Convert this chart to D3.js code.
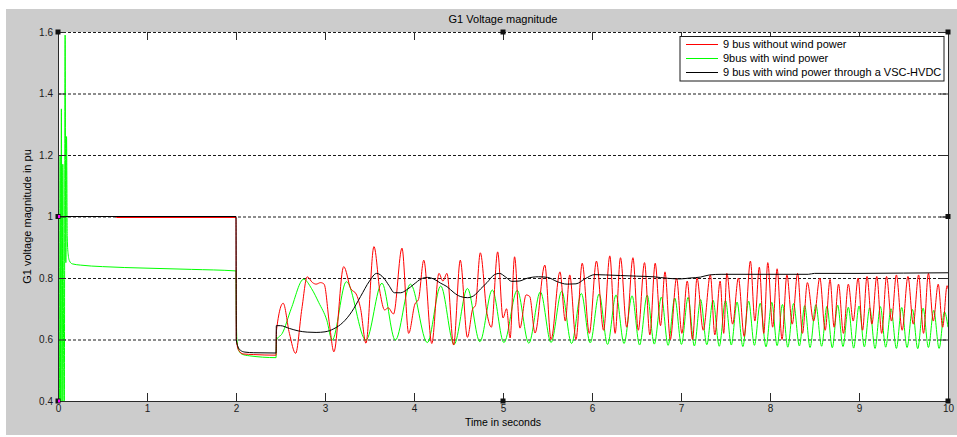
<!DOCTYPE html>
<html>
<head>
<meta charset="utf-8">
<script src="https://cdn.jsdelivr.net/npm/d3@7"></script>
<style>
  body { margin: 0; background: #ffffff; }
  svg { display: block; font-family: "Liberation Sans", Arial, Helvetica, sans-serif; }
</style>
</head>
<body>
<svg id="chart" width="957" height="437"></svg>
<script>
// ---- labels ----
const titleText = "G1 Voltage magnitude";
const xLabelText = "Time in seconds";
const yLabelText = "G1 voltage magnitude in pu";
const seriesNames = [
  "9 bus without wind power",
  "9bus with wind power",
  "9 bus with wind power through a VSC-HVDC"
];
const seriesColors = ["#ff0000", "#00ff00", "#000000"];

// ---- ticks ----
const xTicks = [0, 1, 2, 3, 4, 5, 6, 7, 8, 9, 10];
const yTicks = [0.4, 0.6, 0.8, 1.0, 1.2, 1.4, 1.6];
const yTickLabels = ["0.4", "0.6", "0.8", "1", "1.2", "1.4", "1.6"];

// ---- series: [time (s), voltage (pu)] ----
const noWind = [
  [0, 1.0], [0.64, 1.0], [0.66, 0.99675], [2.0, 0.99675],
  [2.004, 0.60], [2.03, 0.565], [2.08, 0.553], [2.2, 0.551], [2.45, 0.549],
  [2.455, 0.63], [2.53, 0.718], [2.60, 0.62], [2.67, 0.555], [2.74, 0.70],
  [2.80, 0.804], [2.86, 0.785], [2.90, 0.780], [2.95, 0.785], [2.99, 0.78],
  [3.05, 0.65], [3.10, 0.56], [3.21, 0.837], [3.29, 0.765], [3.35, 0.748],
  [3.40, 0.70], [3.46, 0.588], [3.55, 0.902], [3.62, 0.75], [3.67, 0.696],
  [3.71, 0.703], [3.77, 0.683], [3.865, 0.897], [3.94, 0.62], [4.01, 0.715],
  [4.05, 0.73], [4.11, 0.858], [4.20, 0.587], [4.28, 0.815], [4.325, 0.79],
  [4.37, 0.815], [4.445, 0.582], [4.52, 0.858], [4.60, 0.607], [4.66, 0.70],
  [4.69, 0.71], [4.745, 0.882], [4.82, 0.685], [4.87, 0.64], [4.94, 0.885],
  [5.00, 0.67], [5.04, 0.70], [5.08, 0.605], [5.13, 0.869], [5.19, 0.637],
  [5.26, 0.745], [5.30, 0.74], [5.36, 0.621], [5.47, 0.842], [5.54, 0.60],
  [5.64, 0.82], [5.70, 0.66], [5.75, 0.81], [5.82, 0.60], [5.89, 0.848],
  [5.97, 0.62], [6.05, 0.855], [6.13, 0.63], [6.20, 0.872], [6.26, 0.62],
  [6.32, 0.866], [6.39, 0.64], [6.46, 0.866], [6.52, 0.63], [6.59, 0.85],
  [6.65, 0.615], [6.71, 0.848], [6.77, 0.645], [6.82, 0.82], [6.88, 0.60],
  [6.95, 0.80], [7.01, 0.62], [7.07, 0.79], [7.13, 0.60], [7.18, 0.80],
  [7.25, 0.63], [7.33, 0.81], [7.38, 0.615], [7.44, 0.79], [7.48, 0.62],
  [7.515, 0.815], [7.58, 0.65], [7.645, 0.80], [7.71, 0.61], [7.78, 0.855],
  [7.83, 0.66], [7.88, 0.835], [7.93, 0.62], [7.975, 0.85], [8.03, 0.64],
  [8.08, 0.83], [8.135, 0.60], [8.19, 0.81], [8.25, 0.65], [8.31, 0.815],
  [8.365, 0.62], [8.42, 0.785], [8.49, 0.66], [8.56, 0.80], [8.62, 0.63],
  [8.675, 0.795], [8.72, 0.64], [8.77, 0.78], [8.825, 0.62], [8.88, 0.78],
  [8.935, 0.66], [8.99, 0.80], [9.04, 0.63], [9.09, 0.805], [9.145, 0.65],
  [9.2, 0.805], [9.255, 0.62], [9.31, 0.805], [9.365, 0.66], [9.42, 0.81],
  [9.485, 0.63], [9.55, 0.805], [9.61, 0.65], [9.67, 0.81], [9.725, 0.62],
  [9.78, 0.815], [9.835, 0.66], [9.89, 0.78], [9.94, 0.64], [9.99, 0.775],
  [10.0, 0.765]
];

const withWind = [
  [0.000, 1.00], [0.004, 1.26], [0.008, 0.70], [0.016, 0.30], [0.024, 1.20],
  [0.030, 0.40], [0.038, 1.35], [0.046, 0.30], [0.054, 1.17], [0.062, 0.62],
  [0.070, 0.30], [0.080, 1.59], [0.088, 0.85], [0.096, 1.26], [0.104, 0.93],
  [0.115, 0.875], [0.13, 0.855], [0.16, 0.846], [0.25, 0.842], [0.5, 0.837],
  [1.0, 0.832], [1.5, 0.828], [2.0, 0.823],
  [2.003, 0.70], [2.01, 0.60], [2.03, 0.565], [2.07, 0.552], [2.15, 0.547],
  [2.45, 0.541], [2.455, 0.598], [2.52, 0.62], [2.62, 0.70], [2.76, 0.796],
  [2.85, 0.765], [2.93, 0.72], [3.02, 0.663], [3.08, 0.598], [3.24, 0.788],
  [3.46, 0.598], [3.64, 0.783], [3.79, 0.598], [3.96, 0.78], [4.15, 0.59],
  [4.30, 0.774], [4.45, 0.584], [4.60, 0.766], [4.74, 0.593], [4.88, 0.761],
  [5.01, 0.59], [5.16, 0.76], [5.29, 0.588], [5.42, 0.755], [5.54, 0.59],
  [5.66, 0.757], [5.77, 0.587], [5.88, 0.75], [5.98, 0.589], [6.08, 0.748],
  [6.175, 0.584], [6.27, 0.745], [6.36, 0.587], [6.45, 0.742], [6.535, 0.582],
  [6.62, 0.744], [6.70, 0.585], [6.78, 0.738], [6.855, 0.581], [6.93, 0.735],
  [7.005, 0.584], [7.08, 0.737], [7.15, 0.579], [7.22, 0.73], [7.29, 0.583],
  [7.36, 0.728], [7.43, 0.578], [7.50, 0.727], [7.565, 0.582], [7.63, 0.722],
  [7.695, 0.577], [7.76, 0.725], [7.825, 0.581], [7.89, 0.718], [7.955, 0.576],
  [8.02, 0.721], [8.08, 0.58], [8.14, 0.714], [8.20, 0.575], [8.265, 0.717],
  [8.33, 0.579], [8.39, 0.71], [8.45, 0.574], [8.515, 0.713], [8.58, 0.578],
  [8.64, 0.708], [8.70, 0.573], [8.76, 0.712], [8.82, 0.577], [8.88, 0.705],
  [8.94, 0.572], [9.00, 0.709], [9.06, 0.576], [9.12, 0.703], [9.18, 0.571],
  [9.24, 0.707], [9.30, 0.575], [9.36, 0.70], [9.42, 0.571], [9.48, 0.704],
  [9.54, 0.574], [9.60, 0.698], [9.66, 0.57], [9.72, 0.702], [9.78, 0.574],
  [9.84, 0.695], [9.90, 0.571], [9.96, 0.69], [10.0, 0.64]
];

const viaHvdc = [
  [0, 1.0], [2.0, 1.0], [2.003, 0.60], [2.02, 0.578], [2.05, 0.565],
  [2.1, 0.559], [2.2, 0.557], [2.45, 0.556], [2.453, 0.645], [2.5, 0.645],
  [2.6, 0.636], [2.7, 0.628], [2.8, 0.624], [2.9, 0.623], [3.0, 0.625],
  [3.1, 0.635], [3.2, 0.655], [3.3, 0.69], [3.4, 0.74], [3.5, 0.79],
  [3.58, 0.815], [3.66, 0.80], [3.72, 0.775], [3.78, 0.752], [3.85, 0.752],
  [3.92, 0.762], [4.0, 0.78], [4.08, 0.797], [4.15, 0.802], [4.22, 0.797],
  [4.3, 0.783], [4.37, 0.772], [4.45, 0.752], [4.52, 0.74], [4.6, 0.736],
  [4.67, 0.742], [4.75, 0.765], [4.82, 0.785], [4.9, 0.81], [4.96, 0.815],
  [5.03, 0.803], [5.10, 0.789], [5.18, 0.79], [5.27, 0.799], [5.40, 0.804],
  [5.50, 0.802], [5.61, 0.788], [5.72, 0.78], [5.82, 0.781], [5.92, 0.797],
  [6.03, 0.811], [6.15, 0.81], [6.32, 0.808], [6.5, 0.806], [6.69, 0.804],
  [6.85, 0.799], [6.99, 0.797], [7.1, 0.8], [7.22, 0.803], [7.32, 0.81],
  [7.45, 0.812], [8.0, 0.812], [8.43, 0.812], [8.5, 0.815], [9.0, 0.815],
  [9.5, 0.816], [10, 0.817]
];

// ---- layout ----
const width = 957, height = 437;
const plot = { left: 58, right: 948, top: 32, bottom: 401 };
const tickLen = 8;

const svg = d3.select("#chart");

// figure background
svg.append("rect")
  .attr("x", 6).attr("y", 9)
  .attr("width", width - 6).attr("height", 426)
  .attr("fill", "#cccccc");

const x = d3.scaleLinear().domain([0, 10]).range([plot.left, plot.right]);
const y = d3.scaleLinear().domain([0.4, 1.6]).range([plot.bottom, plot.top]);

// axes background
svg.append("rect")
  .attr("x", plot.left).attr("y", plot.top)
  .attr("width", plot.right - plot.left).attr("height", plot.bottom - plot.top)
  .attr("fill", "#ffffff");

// horizontal dashed grid
const grid = svg.append("g")
  .attr("transform", `translate(${plot.left},0)`)
  .call(d3.axisLeft(y).tickValues(yTicks).tickSize(-(plot.right - plot.left)).tickFormat(""));
grid.select(".domain").remove();
grid.selectAll("line")
  .attr("stroke", "#1a1a1a")
  .attr("stroke-dasharray", "3,2")
  .attr("stroke-width", 1);

// data lines, clipped to the axes box
svg.append("clipPath").attr("id", "plot-clip")
  .append("rect")
  .attr("x", plot.left).attr("y", plot.top)
  .attr("width", plot.right - plot.left).attr("height", plot.bottom - plot.top);

const line = d3.line()
  .x(d => x(d[0]))
  .y(d => y(d[1]))
  .curve(d3.curveMonotoneX);

const lines = svg.append("g").attr("clip-path", "url(#plot-clip)");
// drawing order: wind case, no-wind case, HVDC case on top
[[withWind, 1], [noWind, 0], [viaHvdc, 2]].forEach(([data, i]) => {
  lines.append("path")
    .datum(data)
    .attr("fill", "none")
    .attr("stroke", seriesColors[i])
    .attr("stroke-width", 1)
    .attr("d", line);
});

// axes
const axisColor = "#2a2a2a";
const styleAxis = g => {
  g.selectAll(".domain").attr("stroke", axisColor);
  g.selectAll(".tick line").attr("stroke", axisColor);
  g.selectAll(".tick text").attr("fill", "#1a1a1a").attr("font-family", null);
};

svg.append("g")
  .attr("transform", `translate(0,${plot.bottom})`)
  .call(d3.axisBottom(x).tickValues(xTicks).tickSizeInner(-tickLen).tickSizeOuter(0).tickPadding(4))
  .attr("font-size", 10)
  .call(styleAxis);

svg.append("g")
  .attr("transform", `translate(0,${plot.top})`)
  .call(d3.axisTop(x).tickValues(xTicks).tickSizeInner(-tickLen).tickSizeOuter(0).tickFormat(""))
  .call(g => g.select(".domain").remove())
  .call(styleAxis);

svg.append("g")
  .attr("transform", `translate(${plot.left},0)`)
  .call(d3.axisLeft(y).tickValues(yTicks).tickFormat((d, i) => yTickLabels[i])
    .tickSizeInner(-tickLen).tickSizeOuter(0).tickPadding(5))
  .attr("font-size", 10)
  .call(styleAxis);

svg.append("g")
  .attr("transform", `translate(${plot.right},0)`)
  .call(d3.axisRight(y).tickValues(yTicks).tickSizeInner(-tickLen).tickSizeOuter(0).tickFormat(""))
  .call(styleAxis);

// titles
svg.append("text")
  .attr("x", (plot.left + plot.right) / 2).attr("y", 23)
  .attr("text-anchor", "middle").attr("font-size", 11).attr("fill", "#000")
  .text(titleText);

svg.append("text")
  .attr("x", (plot.left + plot.right) / 2).attr("y", 426)
  .attr("text-anchor", "middle").attr("font-size", 10.5).attr("fill", "#000")
  .text(xLabelText);

svg.append("text")
  .attr("transform", `translate(31,${(plot.top + plot.bottom) / 2}) rotate(-90)`)
  .attr("text-anchor", "middle").attr("font-size", 11).attr("fill", "#000")
  .text(yLabelText);

// legend
const legend = svg.append("g").attr("transform", "translate(680,36.5)");
legend.append("rect")
  .attr("width", 264).attr("height", 44.5)
  .attr("fill", "#ffffff").attr("stroke", "#1a1a1a").attr("stroke-width", 1);
seriesNames.forEach((name, i) => {
  const ly = 8 + i * 14;
  legend.append("line")
    .attr("x1", 6).attr("x2", 38).attr("y1", ly).attr("y2", ly)
    .attr("stroke", seriesColors[i]).attr("stroke-width", 1);
  legend.append("text")
    .attr("x", 43).attr("y", ly).attr("dy", "0.36em")
    .attr("font-size", 11).attr("fill", "#000")
    .text(name);
});

// selection handles on the axes box
const handles = [[0, 1.6], [5, 1.6], [10, 1.6], [0, 1.0], [10, 1.0], [0, 0.4], [5, 0.4], [10, 0.4]];
svg.append("g").selectAll("rect").data(handles).join("rect")
  .attr("x", d => x(d[0]) - 2.5).attr("y", d => y(d[1]) - 2.5)
  .attr("width", 5).attr("height", 5)
  .attr("fill", "#111");
svg.append("g").selectAll("rect").data(handles.filter(d => d[0] === 0 && d[1] < 1.2)).join("rect")
  .attr("x", d => x(d[0])).attr("y", d => y(d[1]) - 1.5)
  .attr("width", 2).attr("height", 3)
  .attr("fill", "#ff00ff");
</script>
</body>
</html>
